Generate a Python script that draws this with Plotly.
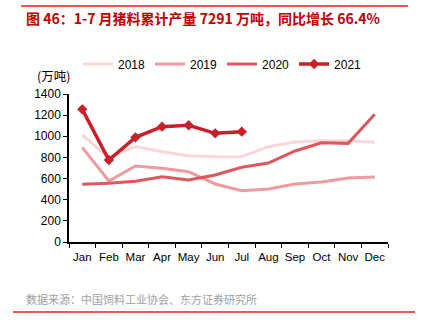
import plotly.graph_objects as go

months = ["Jan", "Feb", "Mar", "Apr", "May", "Jun", "Jul", "Aug", "Sep", "Oct", "Nov", "Dec"]
s2018 = [1012, 800, 902, 854, 817, 807, 807, 902, 946, 958, 958, 943]
s2019 = [895, 577, 719, 697, 665, 549, 485, 501, 549, 568, 605, 615]
s2020 = [546, 555, 574, 618, 587, 634, 707, 747, 861, 939, 933, 1208]
s2021 = [1255, 776, 990, 1091, 1104, 1028, 1044]

L, R, T, B = 69, 388, 94, 242
W, H = 422, 330
def px(x):
    return (x - L) / (R - L)
def py(y):
    return (B - y) / (B - T)

fig = go.Figure()
fig.add_trace(go.Scatter(x=months, y=s2018, name="2018", mode="lines",
                         line=dict(color="#F9D6D7", width=3)))
fig.add_trace(go.Scatter(x=months, y=s2019, name="2019", mode="lines",
                         line=dict(color="#EE9A9E", width=3)))
fig.add_trace(go.Scatter(x=months, y=s2020, name="2020", mode="lines",
                         line=dict(color="#E0565D", width=3)))
fig.add_trace(go.Scatter(x=months[:len(s2021)], y=s2021, name="2021", mode="lines+markers",
                         line=dict(color="#C8202A", width=3.5),
                         marker=dict(symbol="diamond", size=8, color="#C8202A")))

font = "Liberation Sans, Arial, sans-serif"
fig.update_layout(
    width=W, height=H,
    margin=dict(l=L, r=W - R, t=T, b=H - B),
    paper_bgcolor="white", plot_bgcolor="white",
    font=dict(family=font, size=12, color="black"),
    showlegend=True,
    legend=dict(orientation="h", x=px(78), y=py(64), xanchor="left", yanchor="middle",
                font=dict(size=12, family=font), itemwidth=30, tracegroupgap=0,
                bgcolor="rgba(0,0,0,0)"),
    xaxis=dict(type="category", showgrid=False, showline=True, linecolor="black", linewidth=1.5,
               ticks="outside", ticklen=4, tickcolor="black", tickson="boundaries",
               tickangle=0, automargin=False, ticklabelstandoff=3,
               tickfont=dict(size=11.5, family=font), range=[-0.5, 11.5]),
    yaxis=dict(range=[0, 1400], dtick=200, showgrid=False, showline=True, linecolor="black",
               linewidth=1.5, ticks="outside", ticklen=4, tickcolor="black", automargin=False,
               tickfont=dict(size=12, family=font), zeroline=False),
)

fig.add_shape(type="line", xref="paper", yref="paper", x0=px(21), x1=px(408), y0=py(6), y1=py(6),
              line=dict(color="#E02020", width=1.5))
fig.add_shape(type="line", xref="paper", yref="paper", x0=px(13), x1=px(415), y0=py(312), y1=py(312),
              line=dict(color="#E02020", width=1.5))
fig.add_annotation(xref="paper", yref="paper", x=px(24), y=py(18), xanchor="left", yanchor="middle",
                   text="<b>图 46：1-7 月猪料累计产量 7291 万吨，同比增长 66.4%</b>", showarrow=False,
                   font=dict(size=14, color="#C00000", family="Noto Sans CJK SC, sans-serif"))
fig.add_annotation(xref="paper", yref="paper", x=px(35), y=py(75), xanchor="left", yanchor="middle",
                   text="(万吨)", showarrow=False,
                   font=dict(size=12.5, color="black", family="Noto Sans CJK SC, sans-serif"))
fig.add_annotation(xref="paper", yref="paper", x=px(24), y=py(299), xanchor="left", yanchor="middle",
                   text="数据来源：中国饲料工业协会、东方证券研究所", showarrow=False,
                   font=dict(size=11, color="#A0A0A0", family="Noto Sans CJK SC, sans-serif"))

fig.write_html("out.html")
